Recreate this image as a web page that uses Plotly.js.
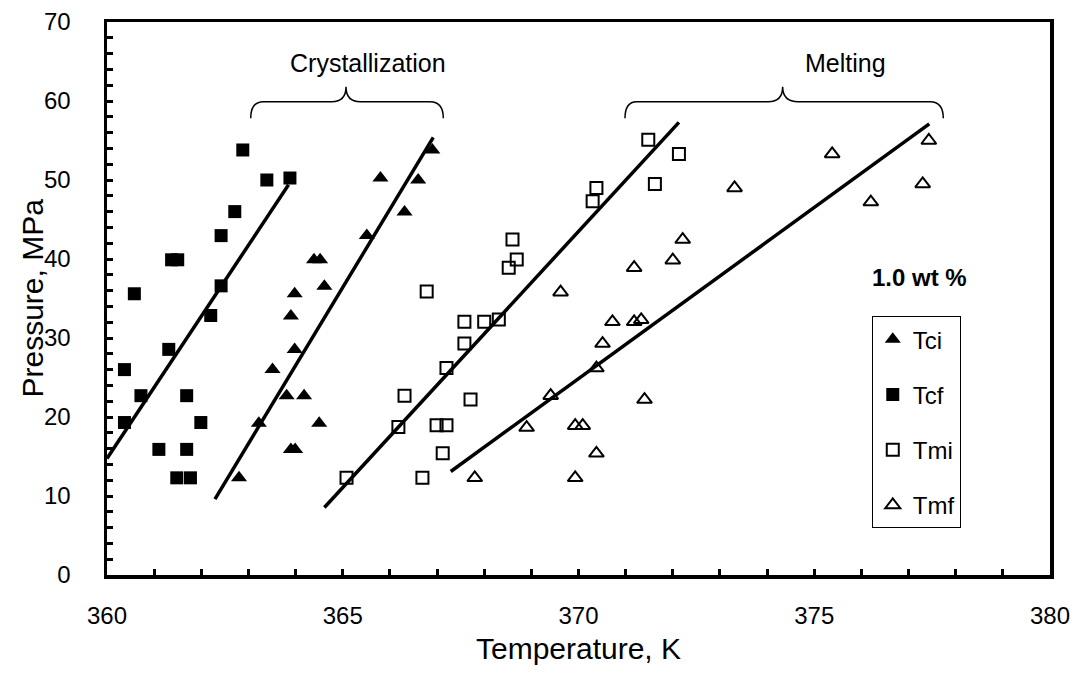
<!DOCTYPE html>
<html>
<head>
<meta charset="utf-8">
<script src="https://cdn.plot.ly/plotly-3.0.1.min.js"></script>
<style>html,body{margin:0;padding:0;background:#fff;}#chart{width:1079px;height:674px;}</style>
</head>
<body>
<div id="chart"></div>
<script>
// Tci - crystallization onset (filled triangles)
var tciT = [366.90, 365.80, 366.60, 366.31, 365.51, 364.39, 364.52, 364.61, 363.98, 363.90, 363.98, 363.51, 363.81, 364.18, 363.22, 364.50, 363.90, 363.99, 362.80];
var tciP = [53.8, 50.25, 50.0, 45.96, 42.96, 39.9, 39.9, 36.55, 35.6, 32.8, 28.56, 26.0, 22.7, 22.7, 19.2, 19.2, 15.9, 15.9, 12.3];
// Tcf - crystallization final (filled squares)
var tcfT = [362.88, 363.39, 363.88, 362.71, 362.42, 361.37, 361.50, 360.58, 362.42, 362.20, 361.31, 360.37, 360.72, 361.69, 360.37, 361.99, 361.10, 361.69, 361.48, 361.77];
var tcfP = [53.8, 50.0, 50.25, 46.0, 42.96, 39.9, 39.9, 35.6, 36.6, 32.85, 28.56, 26.0, 22.7, 22.7, 19.3, 19.3, 15.9, 15.9, 12.3, 12.3];
// Tmi - melting onset (open squares)
var tmiT = [365.08, 366.18, 366.31, 366.78, 366.69, 367.12, 366.99, 367.20, 367.20, 367.71, 367.58, 367.58, 368.00, 368.31, 368.60, 368.69, 368.52, 371.48, 372.13, 371.62, 370.38, 370.30];
var tmiP = [12.3, 18.75, 22.7, 35.9, 12.3, 15.4, 18.95, 18.95, 26.2, 22.2, 29.3, 32.05, 32.05, 32.35, 42.46, 39.93, 38.9, 55.1, 53.3, 49.5, 49.0, 47.3];
// Tmf - melting final (open triangles)
var tmfT = [367.80, 368.90, 369.41, 369.62, 369.93, 369.93, 370.09, 370.38, 370.38, 370.51, 370.72, 371.18, 371.33, 371.40, 371.18, 372.00, 372.21, 373.31, 375.38, 377.43, 377.30, 376.20];
var tmfP = [12.3, 18.66, 22.7, 35.8, 12.3, 18.9, 18.9, 15.4, 26.2, 29.3, 32.05, 32.05, 32.3, 22.2, 38.9, 39.85, 42.46, 48.99, 53.3, 55.0, 49.5, 47.2];

// Linear fit lines (end points)
var fitTcfT = [360.0, 363.85];   var fitTcfP = [14.75, 49.4];
var fitTciT = [362.29, 366.92];  var fitTciP = [9.6, 55.4];
var fitTmiT = [364.61, 372.13];  var fitTmiP = [8.55, 57.3];
var fitTmfT = [367.29, 377.44];  var fitTmfP = [13.1, 57.1];

var seriesNames = ['Tci', 'Tcf', 'Tmi', 'Tmf'];
var xTickVals = [360, 365, 370, 375, 380];
var yTickVals = [0, 10, 20, 30, 40, 50, 60, 70];

var FONT = 'Arial, "Liberation Sans", sans-serif';

function fitLine(x, y) {
  return {x: x, y: y, mode: 'lines', type: 'scatter', showlegend: false, hoverinfo: 'skip',
          line: {color: '#000', width: 3.5}};
}

var traces = [
  fitLine(fitTcfT, fitTcfP),
  fitLine(fitTciT, fitTciP),
  fitLine(fitTmiT, fitTmiP),
  fitLine(fitTmfT, fitTmfP),
  {x: tciT, y: tciP, name: seriesNames[0], legendgroup: 'a', mode: 'markers', type: 'scatter',
   marker: {symbol: 'triangle-up', size: 14, color: '#000'}},
  {x: tcfT, y: tcfP, name: seriesNames[1], legendgroup: 'b', mode: 'markers', type: 'scatter',
   marker: {symbol: 'square', size: 13, color: '#000'}},
  {x: tmiT, y: tmiP, name: seriesNames[2], legendgroup: 'c', mode: 'markers', type: 'scatter',
   marker: {symbol: 'square-open', size: 12, color: '#000', line: {width: 2}}},
  {x: tmfT, y: tmfP, name: seriesNames[3], legendgroup: 'd', mode: 'markers', type: 'scatter',
   marker: {symbol: 'triangle-up-open', size: 13, color: '#000', line: {width: 2}}}
];

var cryBrace = 'M 363.048,57.81 Q 363.048,59.91 363.315,59.91 L 364.766,59.91 Q 365.069,59.91 365.069,61.81 Q 365.069,59.91 365.372,59.91 L 366.85,59.91 Q 367.133,59.91 367.133,57.81';
var meltBrace = 'M 370.986,57.81 Q 370.986,59.91 371.234,59.91 L 374.025,59.91 Q 374.33,59.91 374.33,61.81 Q 374.33,59.91 374.66,59.91 L 377.455,59.91 Q 377.737,59.91 377.737,57.81';

var layout = {
  width: 1079, height: 674,
  margin: {l: 107, r: 29, t: 22, b: 99},
  paper_bgcolor: '#fff', plot_bgcolor: '#fff',
  font: {family: FONT, color: '#000', size: 24},
  showlegend: true,
  legend: {
    x: 0.811, y: 0.468, xanchor: 'left', yanchor: 'top',
    bordercolor: '#000', borderwidth: 1, bgcolor: '#fff',
    font: {family: FONT, size: 24, color: '#000'},
    traceorder: 'grouped', tracegroupgap: 21
  },
  xaxis: {
    range: [360, 380], tickvals: xTickVals, ticks: 'inside', ticklen: 6, tickwidth: 3, tickcolor: '#000',
    minor: {dtick: 1, ticks: 'inside', ticklen: 6, tickwidth: 3, tickcolor: '#000'},
    showgrid: false, zeroline: false, showline: true, linecolor: '#000', linewidth: 3.5, mirror: true,
    tickfont: {family: FONT, size: 24, color: '#000'}, ticklabelstandoff: 17,
    title: {text: 'Temperature, K', font: {family: FONT, size: 30, color: '#000'}, standoff: 10}
  },
  yaxis: {
    range: [0, 70], tickvals: yTickVals, ticks: 'inside', ticklen: 6, tickwidth: 3, tickcolor: '#000',
    minor: {dtick: 2, ticks: 'inside', ticklen: 6, tickwidth: 3, tickcolor: '#000'},
    showgrid: false, zeroline: false, showline: true, linecolor: '#000', linewidth: 3.5, mirror: true,
    tickfont: {family: FONT, size: 24, color: '#000'}, ticklabelstandoff: 28,
    title: {text: ''}
  },
  shapes: [
    {type: 'path', xref: 'x', yref: 'y', path: cryBrace, line: {color: '#000', width: 1.5}},
    {type: 'path', xref: 'x', yref: 'y', path: meltBrace, line: {color: '#000', width: 1.5}}
  ],
  annotations: [
    {x: -0.0795, y: 0.5, xref: 'paper', yref: 'paper', text: 'Pressure, MPa', textangle: -90, showarrow: false,
     xanchor: 'center', yanchor: 'middle', font: {family: FONT, size: 30, color: '#000'}},
    {x: 365.53, y: 64.8, xref: 'x', yref: 'y', text: 'Crystallization', showarrow: false,
     font: {family: FONT, size: 25, color: '#000'}},
    {x: 375.67, y: 64.8, xref: 'x', yref: 'y', text: 'Melting', showarrow: false,
     font: {family: FONT, size: 25, color: '#000'}},
    {x: 377.24, y: 37.7, xref: 'x', yref: 'y', text: '<b>1.0 wt %</b>', showarrow: false,
     font: {family: FONT, size: 24, color: '#000'}}
  ]
};

Plotly.newPlot('chart', traces, layout, {displayModeBar: false, staticPlot: true});
</script>
</body>
</html>
